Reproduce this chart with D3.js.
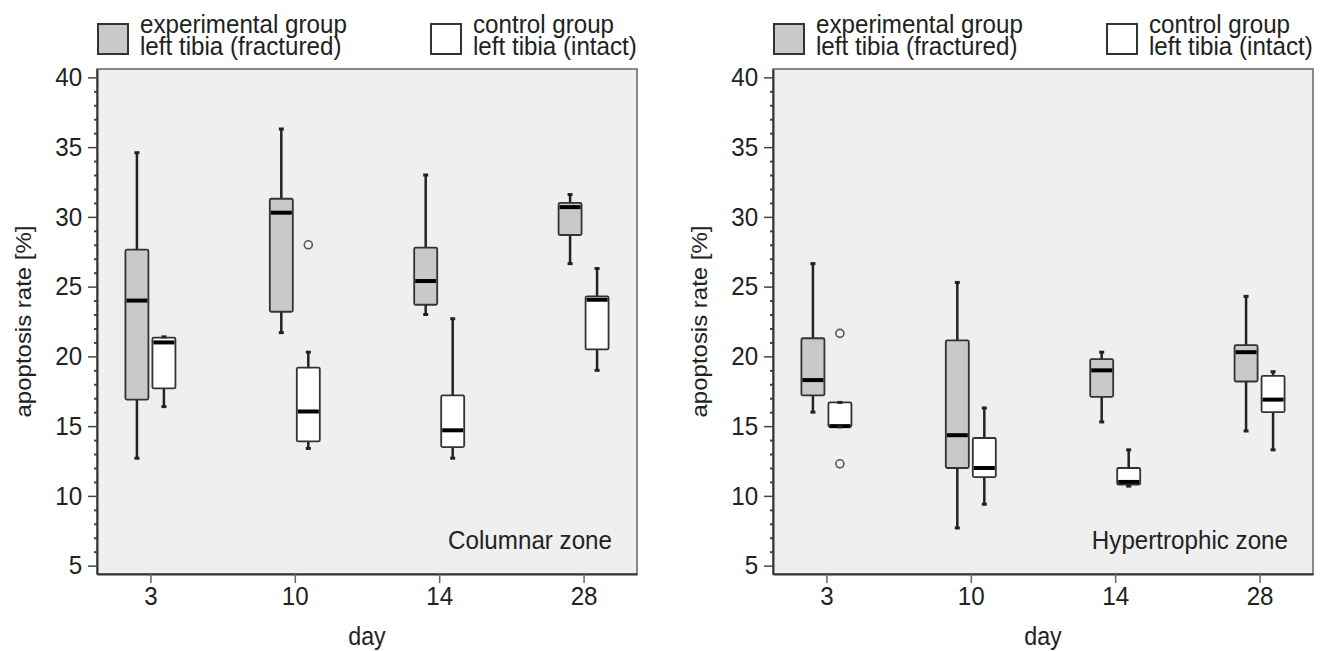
<!DOCTYPE html>
<html>
<head>
<meta charset="utf-8">
<script src="https://cdn.jsdelivr.net/npm/d3@7"></script>
<style>
  body { margin: 0; background: #fff; }
  svg { display: block; font-family: "Liberation Sans", Arial, sans-serif; }
  text { fill: #222; }
</style>
</head>
<body>
<div id="chart"></div>
<script>
// categories
const days = ["3", "10", "14", "28"];
const yTicks = [5, 10, 15, 20, 25, 30, 35, 40];

// box stats per day: [min, q1, median, q3, max]
const columnarExp = [[12.7, 16.9, 24.0, 27.65, 34.6], [21.7, 23.2, 30.3, 31.3, 36.3], [23.0, 23.7, 25.4, 27.8, 33.0], [26.65, 28.7, 30.7, 31.0, 31.6]];
const columnarCtl = [[16.4, 17.7, 21.0, 21.35, 21.4], [13.4, 13.9, 16.05, 19.2, 20.3], [12.7, 13.5, 14.7, 17.2, 22.7], [19.0, 20.5, 24.06, 24.3, 26.3]];
const columnarOutliers = [{day: "10", group: "ctl", v: 28.0}];

const hyperExp = [[16.0, 17.2, 18.3, 21.3, 26.65], [7.7, 12.0, 14.35, 21.15, 25.3], [15.3, 17.1, 19.0, 19.8, 20.3], [14.65, 18.2, 20.3, 20.8, 24.3]];
const hyperCtl = [[14.95, 14.95, 15.0, 16.7, 16.7], [9.4, 11.35, 12.0, 14.15, 16.3], [10.7, 10.8, 11.0, 12.0, 13.3], [13.3, 16.0, 16.9, 18.6, 18.9]];
const hyperOutliers = [{day: "3", group: "ctl", v: 21.65}, {day: "3", group: "ctl", v: 12.3}];

const SX = 0.93; // text is slightly condensed in the original
const width = 1325, height = 651;
const plotTop = 69, plotBottom = 574;
const boxW = 23, boxOff = 13.5;

const svg = d3.select("#chart").append("svg")
  .attr("width", width)
  .attr("height", height);

const y = d3.scaleLinear().domain([4.4, 40.6]).range([plotBottom, plotTop]);

function label(sel, x, yy, str, size, anchor) {
  return sel.append("text")
    .attr("transform", `translate(${x},${yy}) scale(${SX},1)`)
    .attr("text-anchor", anchor)
    .style("font-size", size + "px")
    .text(str);
}

function panel(left, right, exp, ctl, outliers, zone) {
  const g = svg.append("g");
  const x = d3.scalePoint().domain(days).range([left, right]).padding(0.37);

  // frame
  g.append("rect")
    .attr("x", left).attr("y", plotTop)
    .attr("width", right - left).attr("height", plotBottom - plotTop)
    .attr("fill", "#efefef")
    .attr("stroke", "#6e6e6e")
    .attr("stroke-width", 1.6);

  // minor ticks
  const minor = d3.range(5, 41).filter(v => v % 5 !== 0);
  g.append("g")
    .attr("transform", `translate(${left},0)`)
    .call(d3.axisLeft(y).tickValues(minor).tickSize(3).tickFormat(""))
    .call(a => a.select(".domain").remove())
    .selectAll("line").attr("stroke", "#444").attr("stroke-width", 2);

  // y axis
  const ya = g.append("g")
    .attr("transform", `translate(${left},0)`)
    .call(d3.axisLeft(y).tickValues(yTicks).tickSize(9).tickPadding(7).tickSizeOuter(0));
  ya.select(".domain").attr("stroke", "#333").attr("stroke-width", 2);
  ya.selectAll("line").attr("stroke", "#444").attr("stroke-width", 1.5);
  ya.selectAll("text")
    .attr("transform", `scale(${SX},1)`)
    .style("font-size", "26px")
    .style("font-family", "inherit")
    .attr("fill", "#222");

  // x axis
  const xa = g.append("g")
    .attr("transform", `translate(0,${plotBottom})`)
    .call(d3.axisBottom(x).tickSize(9).tickPadding(4).tickSizeOuter(0));
  xa.select(".domain").attr("stroke", "#333").attr("stroke-width", 2);
  xa.selectAll("line").attr("stroke", "#666").attr("stroke-width", 1.5);
  xa.selectAll("text")
    .attr("transform", `scale(${SX},1)`)
    .style("font-size", "26px")
    .style("font-family", "inherit")
    .attr("fill", "#222");

  // boxes
  function boxes(stats, off, fill) {
    const b = g.append("g").selectAll("g")
      .data(stats.map((s, i) => ({day: days[i], s})))
      .join("g")
      .attr("transform", d => `translate(${x(d.day) + off},0)`);

    b.append("line")
      .attr("y1", d => y(d.s[0])).attr("y2", d => y(d.s[4]))
      .attr("stroke", "#222").attr("stroke-width", 2.5);
    b.append("rect")
      .attr("x", -boxW / 2).attr("width", boxW)
      .attr("y", d => y(d.s[3]))
      .attr("height", d => Math.max(1, y(d.s[1]) - y(d.s[3])))
      .attr("fill", fill)
      .attr("stroke", "#333").attr("stroke-width", 1.8)
      .attr("rx", 1.5);
    b.append("line")
      .attr("x1", -boxW / 2 + 1).attr("x2", boxW / 2 - 1)
      .attr("y1", d => y(d.s[2])).attr("y2", d => y(d.s[2]))
      .attr("stroke", "#000").attr("stroke-width", 4);
    [0, 4].forEach(k => {
      b.append("line")
        .attr("x1", -2.5).attr("x2", 2.5)
        .attr("y1", d => y(d.s[k])).attr("y2", d => y(d.s[k]))
        .attr("stroke", "#222").attr("stroke-width", 3);
    });
  }
  boxes(exp, -boxOff, "#c9c9c9");
  boxes(ctl, boxOff, "#ffffff");

  g.append("g").selectAll("circle")
    .data(outliers)
    .join("circle")
    .attr("cx", d => x(d.day) + (d.group === "ctl" ? boxOff : -boxOff))
    .attr("cy", d => y(d.v))
    .attr("r", 4)
    .attr("fill", "#f4f4f4")
    .attr("stroke", "#555")
    .attr("stroke-width", 1.6);

  // zone label
  label(g, right - 25, 549, zone, 26, "end");

  // axis titles
  label(g, (left + right) / 2, 645, "day", 25, "middle");
  g.append("text")
    .attr("transform", `translate(${left - 66},${(plotTop + plotBottom) / 2}) scale(${SX},1) rotate(-90)`)
    .attr("text-anchor", "middle")
    .style("font-size", "24px")
    .text("apoptosis rate [%]");

  // legend
  const leg = [
    {dx: 1, fill: "#c9c9c9", lines: ["experimental group", "left tibia (fractured)"]},
    {dx: 334, fill: "#ffffff", lines: ["control group", "left tibia (intact)"]}
  ];
  leg.forEach(l => {
    g.append("rect")
      .attr("x", left + l.dx).attr("y", 24)
      .attr("width", 30).attr("height", 30)
      .attr("fill", l.fill)
      .attr("stroke", "#333").attr("stroke-width", 2);
    const t = g.append("text")
      .attr("transform", `translate(${left + l.dx + 42},33) scale(${SX},1)`)
      .style("font-size", "26px");
    t.append("tspan").attr("x", 0).attr("y", 0).text(l.lines[0]);
    t.append("tspan").attr("x", 0).attr("y", 22).text(l.lines[1]);
  });
}

panel(97, 637, columnarExp, columnarCtl, columnarOutliers, "Columnar zone");
panel(773, 1313, hyperExp, hyperCtl, hyperOutliers, "Hypertrophic zone");
</script>
</body>
</html>
